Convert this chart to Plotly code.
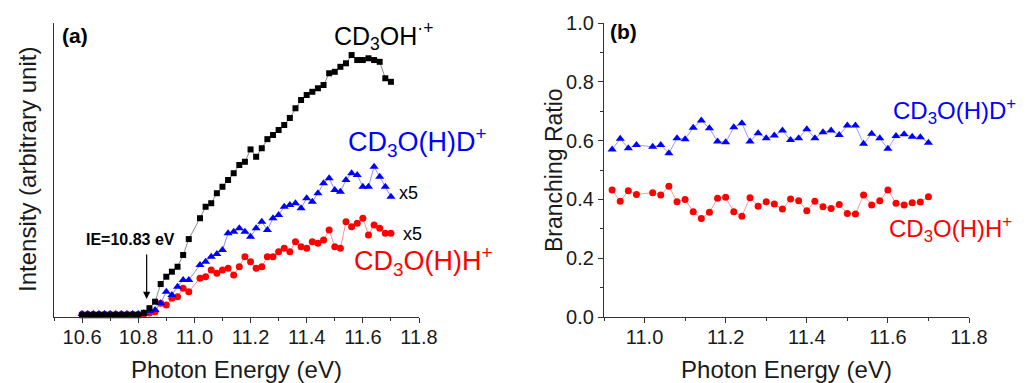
import plotly.graph_objects as go

# ---------------- data ----------------
energy_a = [10.60, 10.62, 10.64, 10.66, 10.68, 10.70, 10.72, 10.74, 10.76, 10.78, 10.80,
            10.82, 10.84, 10.86, 10.88, 10.90, 10.92, 10.94, 10.96, 10.98,
            11.02, 11.04, 11.06, 11.08, 11.10, 11.12, 11.14, 11.16, 11.18, 11.20,
            11.22, 11.24, 11.26, 11.28, 11.30, 11.32, 11.34, 11.36, 11.38, 11.40,
            11.42, 11.44, 11.46, 11.48, 11.50, 11.52, 11.54, 11.56, 11.58, 11.60,
            11.62, 11.64, 11.66, 11.68, 11.70]

cd3oh = [0.6, 0.6, 0.6, 0.6, 0.6, 0.6, 0.6, 0.6, 0.6, 0.6, 0.6,
         1.4, 3.0, 5.2, 11.2, 13.7, 15.4, 17.1, 21.1, 26.5,
         33.6, 37.5, 38.7, 42.1, 44.3, 46.6, 48.9, 51.7, 52.8, 57.0,
         54.5, 57.4, 60.5, 61.9, 63.6, 65.3, 67.7, 71.0, 73.8, 75.5,
         76.6, 77.8, 78.9, 82.9, 83.4, 85.1, 86.3, 89.1, 87.4, 87.4,
         88.0, 87.4, 86.8, 81.2, 80.0]

cd3ohd = [1.0, 1.0, 1.0, 1.0, 1.0, 1.0, 1.0, 1.0, 1.0, 1.0, 1.0,
          1.4, 2.0, 2.4, 4.7, 8.6, 7.5, 10.3, 12.6, 12.6,
          17.7, 18.8, 20.5, 21.4, 22.8, 28.5, 29.0, 30.2, 29.0, 27.3,
          30.2, 32.4, 29.6, 33.6, 34.7, 37.5, 38.1, 38.7, 37.0, 40.4,
          39.2, 42.1, 45.5, 47.2, 43.2, 42.6, 46.6, 48.9, 48.3, 44.3,
          44.3, 51.1, 47.7, 44.3, 40.9]

cd3ohh = [0.9, 0.9, 0.9, 0.9, 0.9, 0.9, 0.9, 0.9, 0.9, 0.9, 0.9,
          1.0, 1.4, 1.8, 4.7, 4.1, 6.4, 6.9, 9.8, 8.6,
          13.2, 13.7, 16.0, 14.9, 16.0, 16.6, 14.3, 17.1, 20.5, 18.8,
          16.6, 17.1, 20.5, 20.5, 22.2, 23.4, 22.2, 25.6, 23.9, 23.4,
          25.6, 25.1, 26.2, 29.6, 23.9, 23.4, 32.4, 30.7, 31.9, 33.6,
          27.9, 31.3, 30.2, 28.5, 28.5]

energy_b = [10.92, 10.94, 10.96, 10.98,
            11.02, 11.04, 11.06, 11.08, 11.10, 11.12, 11.14, 11.16, 11.18, 11.20,
            11.22, 11.24, 11.26, 11.28, 11.30, 11.32, 11.34, 11.36, 11.38, 11.40,
            11.42, 11.44, 11.46, 11.48, 11.50, 11.52, 11.54, 11.56, 11.58, 11.60,
            11.62, 11.64, 11.66, 11.68, 11.70]

ratio_d = [0.570, 0.606, 0.574, 0.585,
           0.579, 0.585, 0.557, 0.608, 0.605, 0.644, 0.668, 0.642, 0.597, 0.594,
           0.645, 0.659, 0.597, 0.625, 0.608, 0.617, 0.634, 0.602, 0.608, 0.639,
           0.608, 0.628, 0.634, 0.619, 0.651, 0.651, 0.589, 0.623, 0.608, 0.572,
           0.616, 0.622, 0.613, 0.611, 0.593]

ratio_h = [0.432, 0.394, 0.429, 0.417,
           0.423, 0.415, 0.445, 0.392, 0.400, 0.358, 0.335, 0.356, 0.404, 0.407,
           0.358, 0.343, 0.406, 0.377, 0.392, 0.384, 0.367, 0.401, 0.395, 0.361,
           0.394, 0.375, 0.369, 0.383, 0.352, 0.350, 0.415, 0.381, 0.395, 0.432,
           0.387, 0.381, 0.389, 0.391, 0.409]

# ---------------- figure ----------------
FONT = "Liberation Sans, Arial, sans-serif"
TXT = "#1a1a1a"
BLACK = "#000000"
BLUE = "#0000ff"
RED = "#ff0000"

fig = go.Figure()

fig.add_trace(go.Scatter(x=energy_a, y=cd3ohh, mode="lines+markers", xaxis="x", yaxis="y",
                         line=dict(color="#ff9090", width=1),
                         marker=dict(symbol="circle", size=7, color=RED), cliponaxis=False))
fig.add_trace(go.Scatter(x=energy_a, y=cd3ohd, mode="lines+markers", xaxis="x", yaxis="y",
                         line=dict(color="#8c8cff", width=1),
                         marker=dict(symbol="triangle-up", size=8, color=BLUE), cliponaxis=False))
fig.add_trace(go.Scatter(x=energy_a, y=cd3oh, mode="lines+markers", xaxis="x", yaxis="y",
                         line=dict(color="#8a8a8a", width=1),
                         marker=dict(symbol="square", size=6, color=BLACK), cliponaxis=False))

fig.add_trace(go.Scatter(x=energy_b, y=ratio_d, mode="lines+markers", xaxis="x2", yaxis="y2",
                         line=dict(color="#9a9aff", width=1),
                         marker=dict(symbol="triangle-up", size=8, color=BLUE)))
fig.add_trace(go.Scatter(x=energy_b, y=ratio_h, mode="lines+markers", xaxis="x2", yaxis="y2",
                         line=dict(color="#ff9a9a", width=1),
                         marker=dict(symbol="circle", size=7, color=RED)))

axis_common = dict(showline=True, linecolor="#333333", linewidth=1.3, showgrid=False,
                   zeroline=False, mirror=False, automargin=False,
                   tickfont=dict(family=FONT, size=20, color=TXT))

xtitle = dict(text="Photon Energy (eV)", font=dict(family=FONT, size=24, color=TXT), standoff=15)

fig.update_layout(
    width=1027, height=383,
    margin=dict(l=54, r=58, t=23, b=66),
    paper_bgcolor="white", plot_bgcolor="white",
    showlegend=False,
    font=dict(family=FONT, color=TXT),
    xaxis=dict(domain=[0, 365 / 915], range=[10.5, 11.8], tick0=10.6, dtick=0.2,
               ticks="outside", ticklen=5, tickcolor="#333333", tickformat=".1f",
               ticklabelstandoff=-3,
               minor=dict(dtick=0.1, tick0=10.5, ticks="outside", ticklen=3, tickcolor="#333333"),
               title=xtitle, **axis_common),
    yaxis=dict(domain=[0, 1], range=[0, 100], showticklabels=False, ticks="",
               **axis_common),
    xaxis2=dict(domain=[550 / 915, 1], range=[10.9, 11.8], tick0=11.0, dtick=0.2, anchor="y2",
                ticks="outside", ticklen=5, tickcolor="#333333", tickformat=".1f",
                ticklabelstandoff=-3,
                minor=dict(dtick=0.1, tick0=10.9, ticks="outside", ticklen=3, tickcolor="#333333"),
                title=xtitle, **axis_common),
    yaxis2=dict(domain=[0, 1], range=[0, 1.0], dtick=0.2, anchor="x2", tickformat=".1f",
                ticks="outside", ticklen=5, tickcolor="#333333",
                minor=dict(dtick=0.1, ticks="outside", ticklen=3, tickcolor="#333333"),
                **axis_common),
)

ann = []
# y-axis titles
ann.append(dict(text="Intensity (arbitrary unit)", xref="paper", yref="paper",
                x=-27 / 915, y=0.5, textangle=-90, showarrow=False,
                font=dict(family=FONT, size=24, color=TXT), xanchor="center", yanchor="middle"))
ann.append(dict(text="Branching Ratio", xref="paper", yref="paper",
                x=(554 - 54) / 915, y=0.5, textangle=-90, showarrow=False,
                font=dict(family=FONT, size=23, color=TXT), xanchor="center", yanchor="middle"))
# panel labels
ann.append(dict(text="<b>(a)</b>", xref="x", yref="y", x=10.521, y=95.9, showarrow=False,
                xanchor="left", yanchor="middle", font=dict(family=FONT, size=21, color=BLACK)))
ann.append(dict(text="<b>(b)</b>", xref="x2", yref="y2", x=10.91, y=0.970, showarrow=False,
                xanchor="left", yanchor="middle", font=dict(family=FONT, size=21, color=BLACK)))
# panel (a) species labels
ann.append(dict(text="CD<sub>3</sub>OH<sup>·+</sup>", xref="x", yref="y", x=11.49, y=95.5,
                showarrow=False, xanchor="left", yanchor="middle",
                font=dict(family=FONT, size=25, color=BLACK)))
ann.append(dict(text="CD<sub>3</sub>O(H)D<sup>+</sup>", xref="x", yref="y", x=11.54, y=59.5,
                showarrow=False, xanchor="left", yanchor="middle",
                font=dict(family=FONT, size=27, color=BLUE)))
ann.append(dict(text="CD<sub>3</sub>O(H)H<sup>+</sup>", xref="x", yref="y", x=11.56, y=19.0,
                showarrow=False, xanchor="left", yanchor="middle",
                font=dict(family=FONT, size=27, color=RED)))
ann.append(dict(text="x5", xref="x", yref="y", x=11.762, y=42.2, showarrow=False,
                xanchor="center", yanchor="middle", font=dict(family=FONT, size=18, color=BLACK)))
ann.append(dict(text="x5", xref="x", yref="y", x=11.776, y=28.2, showarrow=False,
                xanchor="center", yanchor="middle", font=dict(family=FONT, size=18, color=BLACK)))
# IE marker
ann.append(dict(text="<b>IE=10.83 eV</b>", xref="x", yref="y", x=10.774, y=26.5, showarrow=False,
                xanchor="center", yanchor="middle", font=dict(family=FONT, size=16, color=BLACK)))
ann.append(dict(text="", xref="x", yref="y", x=10.83, y=6.1, ax=0, ay=-46,
                showarrow=True, arrowhead=2, arrowsize=1.2, arrowwidth=1.2, arrowcolor=BLACK))
# panel (b) species labels
ann.append(dict(text="CD<sub>3</sub>O(H)D<sup>+</sup>", xref="x2", yref="y2", x=11.607, y=0.700,
                showarrow=False, xanchor="left", yanchor="middle",
                font=dict(family=FONT, size=24, color=BLUE)))
ann.append(dict(text="CD<sub>3</sub>O(H)H<sup>+</sup>", xref="x2", yref="y2", x=11.597, y=0.300,
                showarrow=False, xanchor="left", yanchor="middle",
                font=dict(family=FONT, size=24, color=RED)))

fig.update_layout(annotations=ann)

fig.write_html("out.html", config={"displayModeBar": False},
               post_script="document.body.style.margin='0px';document.body.style.overflow='hidden';")
